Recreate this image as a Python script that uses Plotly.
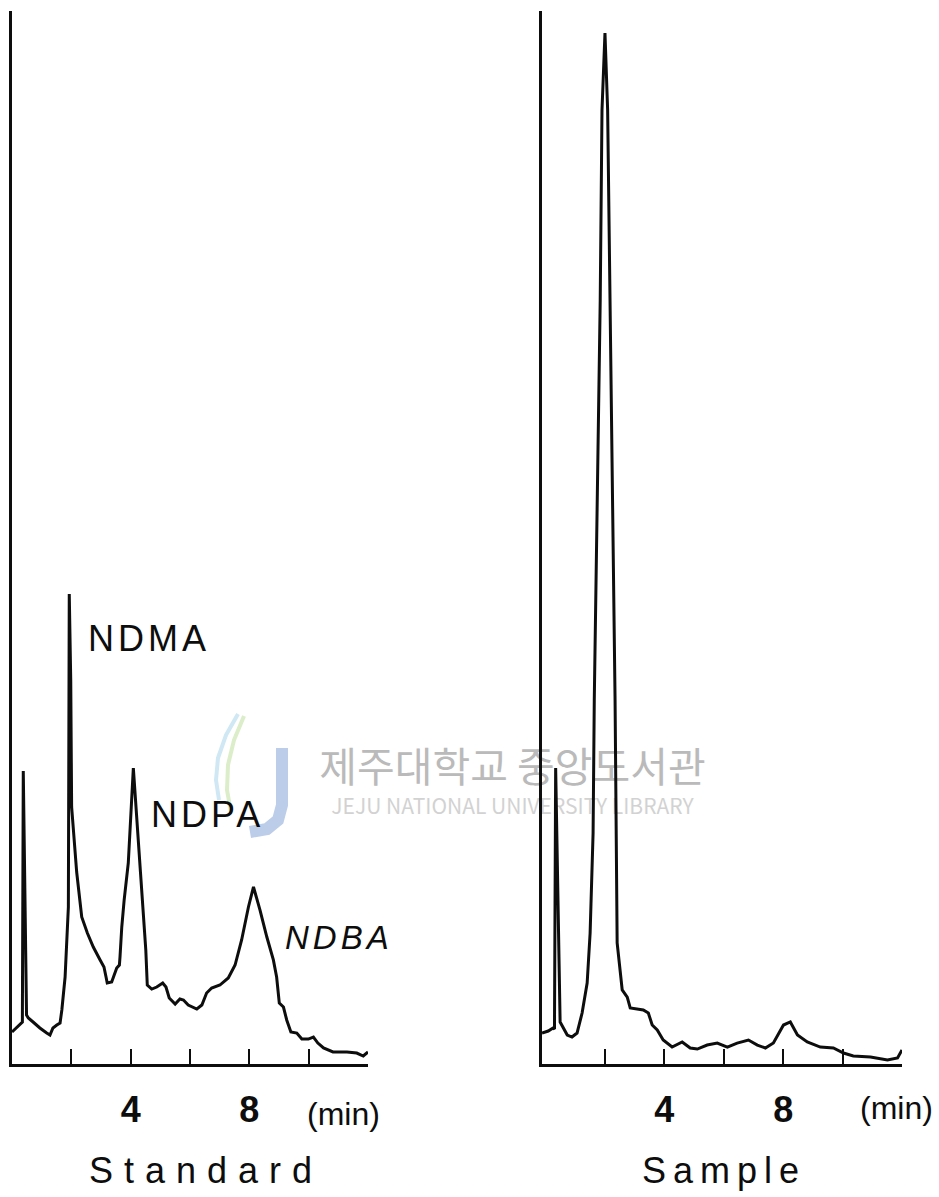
import plotly.graph_objects as go

# ---- Chromatogram data (retention time in min, detector response in % of full scale) ----
std_time = [0.00, 0.35, 0.38, 0.49, 0.55, 0.71, 0.94, 1.17, 1.28, 1.38, 1.51, 1.62, 1.68,
            1.79, 1.90, 1.93, 1.98, 2.01, 2.18, 2.35, 2.54, 2.74, 2.97, 3.10, 3.17, 3.21,
            3.36, 3.53, 3.62, 3.64, 3.70, 3.78, 3.92, 4.09, 4.33, 4.51, 4.56, 4.71, 4.88,
            5.08, 5.19, 5.30, 5.50, 5.66, 5.78, 5.94, 6.23, 6.40, 6.56, 6.73, 7.01, 7.29,
            7.52, 7.74, 7.97, 8.14, 8.36, 8.59, 8.81, 8.92, 9.01, 9.15, 9.26, 9.40, 9.60,
            9.77, 9.99, 10.16, 10.31, 10.50, 10.82, 11.29, 11.62, 11.84, 12.00]
std_resp = [3.04, 3.99, 27.83, 4.65, 4.37, 3.99, 3.42, 2.94, 2.75, 3.42, 3.70, 3.89, 5.13,
            8.26, 14.91, 44.63, 36.47, 24.41, 18.23, 13.96, 12.44, 11.11, 9.88, 9.21, 8.26, 7.69,
            7.79, 9.12, 9.40, 10.16, 13.01, 15.57, 19.09, 28.11, 18.23, 10.83, 7.50, 7.12, 7.31,
            7.69, 7.31, 6.27, 5.70, 6.17, 6.08, 5.60, 5.22, 5.60, 6.74, 7.22, 7.50, 8.17,
            9.40, 11.78, 14.91, 16.81, 14.62, 12.06, 9.88, 8.26, 5.79, 5.41, 4.18, 3.04, 2.94,
            2.37, 2.37, 2.56, 1.99, 1.52, 1.14, 1.14, 1.04, 0.76, 1.14]

smp_time = [-0.12, 0.09, 0.25, 0.30, 0.34, 0.49, 0.73, 0.89, 1.06, 1.23, 1.40, 1.50, 1.60,
            1.64, 1.84, 1.90, 2.00, 2.09, 2.17, 2.34, 2.41, 2.58, 2.75, 2.85, 3.29, 3.46,
            3.59, 3.76, 3.96, 4.26, 4.60, 4.87, 5.11, 5.44, 5.78, 6.12, 6.45, 6.83, 7.13,
            7.40, 7.67, 8.01, 8.24, 8.48, 8.81, 9.25, 9.69, 10.03, 10.36, 10.94, 11.51,
            11.85, 12.00]
smp_resp = [2.94, 3.13, 3.42, 3.32, 28.11, 3.99, 2.75, 2.56, 2.94, 4.84, 7.69, 12.44, 21.94,
            34.57, 72.56, 90.60, 97.91, 90.60, 72.56, 34.57, 11.49, 7.03, 6.36, 5.32, 5.13, 4.84,
            3.70, 3.23, 2.28, 1.61, 2.09, 1.52, 1.42, 1.80, 1.99, 1.61, 1.99, 2.28, 1.80,
            1.52, 1.99, 3.70, 3.99, 2.75, 2.09, 1.61, 1.52, 1.04, 0.76, 0.66, 0.38,
            0.57, 1.33]

tick_vals = [2, 4, 6, 8, 10, 12]
tick_text = ["", "4", "", "8", "", ""]

W, H = 939, 1197


def px(x):
    return x / W


def py(y):
    return 1 - y / H


INK = "#0d0d0d"
LABEL_FONT = "Liberation Sans"

fig = go.Figure()
fig.add_trace(go.Scatter(x=std_time, y=std_resp, mode="lines", xaxis="x", yaxis="y",
                         line=dict(color=INK, width=3, simplify=False), hoverinfo="skip"))
fig.add_trace(go.Scatter(x=smp_time, y=smp_resp, mode="lines", xaxis="x2", yaxis="y2",
                         line=dict(color=INK, width=3, simplify=False), hoverinfo="skip"))

xcommon = dict(showgrid=False, zeroline=False, showline=True, linecolor=INK, linewidth=3,
               tickmode="array", tickvals=tick_vals, ticktext=tick_text,
               ticks="inside", ticklen=15, tickwidth=2.4, tickcolor=INK,
               tickfont=dict(family=LABEL_FONT, size=36, color=INK, weight="bold"),
               ticklabelstandoff=12, fixedrange=True)
ycommon = dict(showgrid=False, zeroline=False, showline=True, linecolor=INK, linewidth=3,
               showticklabels=False, ticks="", range=[0, 100], fixedrange=True,
               domain=[py(1064), py(11)])

fig.update_layout(
    width=W, height=H,
    margin=dict(l=0, r=0, t=0, b=0),
    paper_bgcolor="white", plot_bgcolor="rgba(0,0,0,0)",
    showlegend=False,
    xaxis=dict(domain=[px(12), px(368)], range=[0, 12], anchor="y", **xcommon),
    yaxis=dict(anchor="x", **ycommon),
    xaxis2=dict(domain=[px(542), px(902)], range=[-0.12, 12], anchor="y2", **xcommon),
    yaxis2=dict(anchor="x2", **ycommon),
)

# ---- Peak labels, units and panel titles ----
labels = [
    ("NDMA", 149, 638, 36, "normal"),
    ("NDPA", 207, 814, 36, "normal"),
    ("NDBA", 339, 937, 33, "italic"),
    ("(min)", 343, 1114, 32, "normal"),
    ("(min)", 896, 1108, 32, "normal"),
    ("Standard", 206, 1170, 36, "normal"),
    ("Sample", 724, 1170, 36, "normal"),
]
for text, x, y, size, style in labels:
    fig.add_annotation(x=px(x), y=py(y), xref="paper", yref="paper", text=text,
                       showarrow=False, xanchor="center", yanchor="middle",
                       font=dict(family=LABEL_FONT, size=size, color=INK, style=style))

# ---- Library watermark (drawn beneath the traces) ----
fig.add_shape(type="rect", xref="paper", yref="paper", layer="below",
              x0=px(300), x1=px(725), y0=py(792), y1=py(750), line=dict(width=0),
              label=dict(text="제주대학교 중앙도서관", textposition="middle center",
                         font=dict(family="Noto Sans CJK KR", size=41, color="#bababa")))
fig.add_shape(type="rect", xref="paper", yref="paper", layer="below",
              x0=px(300), x1=px(725), y0=py(819), y1=py(797), line=dict(width=0),
              label=dict(text="JEJU NATIONAL UNIVERSITY LIBRARY", textposition="middle center",
                         font=dict(family="Noto Sans CJK KR", size=21, color="#d2d2d2")))


def path(points):
    return "M " + " L ".join(f"{px(x):.5f},{py(y):.5f}" for x, y in points)


# emblem: two waves and a "J"
fig.add_shape(type="path", xref="paper", yref="paper", layer="below",
              path=path([(238, 714), (226, 735), (218, 758), (216, 780), (219, 800)]),
              line=dict(color="#cfe8f4", width=4))
fig.add_shape(type="path", xref="paper", yref="paper", layer="below",
              path=path([(244, 716), (234, 740), (228, 765), (227, 790), (231, 812)]),
              line=dict(color="#dcedca", width=4))
fig.add_shape(type="path", xref="paper", yref="paper", layer="below",
              path=path([(282, 748), (282, 805), (278, 820), (267, 829), (250, 832)]),
              line=dict(color="#bccdea", width=12))

fig.write_html(
    "out.html",
    post_script="""
var gd = document.getElementById('{plot_id}');
var spacing = {"NDMA": 4, "NDPA": 4, "NDBA": 4, "Standard": 11, "Sample": 7};
function spread() {
  gd.querySelectorAll('text.annotation-text').forEach(function (t) {
    var s = spacing[t.textContent];
    if (s !== undefined) { t.style.letterSpacing = s + 'px'; }
  });
}
spread();
gd.on('plotly_afterplot', spread);
""",
)
